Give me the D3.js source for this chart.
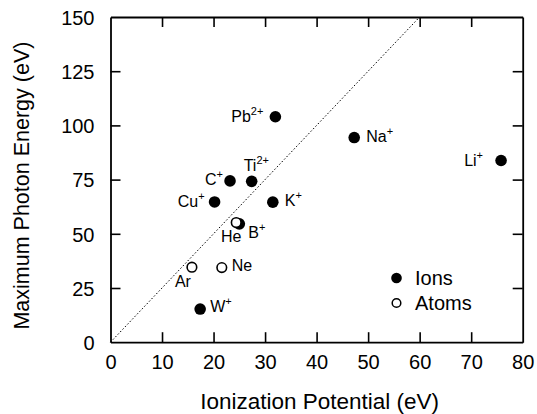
<!DOCTYPE html>
<html><head><meta charset="utf-8">
<script src="https://cdn.jsdelivr.net/npm/d3@7/dist/d3.min.js"></script>
<style>body{margin:0;background:#fff}svg{display:block}</style>
</head><body>
<svg id="chart" width="537" height="414"></svg>
<script>
// ---- data ----
const ionNames    = ["Pb", "Ti", "C", "Cu", "K", "B", "W", "Na", "Li"];
const ionCharges  = ["2+", "2+", "+", "+", "+", "+", "+", "+", "+"];
const ionIP       = [32.0, 27.4, 23.2, 20.2, 31.5, 25.0, 17.4, 47.3, 75.8];
const ionEnergy   = [104.0, 74.2, 74.4, 64.7, 64.6, 54.6, 15.3, 94.4, 83.8];
const atomNames   = ["He", "Ar", "Ne"];
const atomIP      = [24.4, 15.8, 21.6];
const atomEnergy  = [55.2, 34.6, 34.4];
const xTicks = [0, 10, 20, 30, 40, 50, 60, 70, 80];
const yTicks = [0, 25, 50, 75, 100, 125, 150];
const refLineX = [0, 60];
const refLineY = [0, 150];
const legendLabels = ["Ions", "Atoms"];

// ---- label placement (layout only) ----
const ionLabelPos = [
  {anchor:"end", dx:-12, dy:5},    // Pb
  {anchor:"start", dx:-8, dy:-10}, // Ti
  {anchor:"end", dx:-7, dy:4},     // C
  {anchor:"end", dx:-10, dy:5},    // Cu
  {anchor:"start", dx:12, dy:4},   // K
  {anchor:"start", dx:9, dy:14},   // B
  {anchor:"start", dx:10, dy:3},   // W
  {anchor:"start", dx:12, dy:4},   // Na
  {anchor:"end", dx:-18, dy:5}     // Li
];
const atomLabelPos = [
  {anchor:"middle", dx:-5, dy:19}, // He
  {anchor:"end", dx:-1, dy:20},    // Ar
  {anchor:"start", dx:10, dy:3}    // Ne
];

(function () {
const svg = d3.select("#chart");
const mLeft = 110.5, mRight = 522.7, mTop = 17, mBottom = 342.2;
const x = d3.scaleLinear().domain([0, 80]).range([mLeft, mRight]);
const y = d3.scaleLinear().domain([0, 150]).range([mBottom, mTop]);
const font = "'Liberation Sans', Arial, Helvetica, sans-serif";
const tickLen = 10;

const axB = svg.append("g").attr("transform", `translate(0,${mBottom})`)
  .call(d3.axisBottom(x).tickValues(xTicks).tickSizeInner(-tickLen).tickSizeOuter(0).tickPadding(13).tickFormat(d3.format("d")));
const axT = svg.append("g").attr("transform", `translate(0,${mTop})`)
  .call(d3.axisTop(x).tickValues(xTicks).tickSizeInner(-tickLen).tickSizeOuter(0).tickFormat(""));
const axL = svg.append("g").attr("transform", `translate(${mLeft},0)`)
  .call(d3.axisLeft(y).tickValues(yTicks).tickSizeInner(-tickLen).tickSizeOuter(0).tickPadding(16).tickFormat(d3.format("d")));
const axR = svg.append("g").attr("transform", `translate(${mRight},0)`)
  .call(d3.axisRight(y).tickValues(yTicks).tickSizeInner(-tickLen).tickSizeOuter(0).tickFormat(""));
[axB, axT, axL, axR].forEach(g => {
  g.select(".domain").attr("stroke", "#000").attr("stroke-width", 1.8);
  g.selectAll(".tick line").attr("stroke", "#000").attr("stroke-width", 1.6);
  g.selectAll(".tick text").attr("fill", "#000").style("font-family", font).style("font-size", "20px");
});
axB.selectAll(".tick text").attr("dy", "0.71em");
axL.selectAll(".tick text").attr("dy", "0.36em");
axB.selectAll(".tick line").filter(d => d === 0 || d === 80).remove();
axT.selectAll(".tick line").filter(d => d === 0 || d === 80).remove();
axL.selectAll(".tick line").filter(d => d === 0 || d === 150).remove();
axR.selectAll(".tick line").filter(d => d === 0 || d === 150).remove();

svg.append("text").attr("x", (mLeft + mRight) / 2 + 3).attr("y", 409)
  .attr("text-anchor", "middle").style("font-family", font).style("font-size", "22.5px")
  .text("Ionization Potential (eV)");
svg.append("text").attr("transform", `translate(29,${(mTop + mBottom) / 2 + 6}) rotate(-90)`)
  .attr("text-anchor", "middle").style("font-family", font).style("font-size", "21.5px")
  .text("Maximum Photon Energy (eV)");

svg.append("line")
  .attr("x1", x(refLineX[0])).attr("y1", y(refLineY[0]))
  .attr("x2", x(refLineX[1])).attr("y2", y(refLineY[1]))
  .attr("stroke", "#000").attr("stroke-width", 1).attr("stroke-dasharray", "1.5,2");

svg.append("g").selectAll("circle").data(ionIP).join("circle")
  .attr("cx", d => x(d)).attr("cy", (d, i) => y(ionEnergy[i])).attr("r", 5.8)
  .attr("fill", "#000");

svg.append("g").selectAll("circle").data(atomIP).join("circle")
  .attr("cx", d => x(d)).attr("cy", (d, i) => y(atomEnergy[i])).attr("r", 4.8)
  .attr("fill", "#fff").attr("stroke", "#000").attr("stroke-width", 1.6);

function addLabel(name, sup, px, py, pos) {
  const t = svg.append("text").attr("x", px + pos.dx).attr("y", py + pos.dy)
    .attr("text-anchor", pos.anchor).style("font-family", font).style("font-size", "16px").attr("fill", "#000");
  t.append("tspan").text(name);
  if (sup) t.append("tspan").attr("dy", -7).style("font-size", "11px").text(sup);
}
ionNames.forEach((n, i) => addLabel(n, ionCharges[i], x(ionIP[i]), y(ionEnergy[i]), ionLabelPos[i]));
atomNames.forEach((n, i) => addLabel(n, null, x(atomIP[i]), y(atomEnergy[i]), atomLabelPos[i]));

const lg = svg.append("g");
legendLabels.forEach((lab, i) => {
  const cy = 278 + i * 25;
  if (i === 0) lg.append("circle").attr("cx", 396.5).attr("cy", cy).attr("r", 5.3).attr("fill", "#000");
  else lg.append("circle").attr("cx", 396.5).attr("cy", cy).attr("r", 4.3).attr("fill", "#fff").attr("stroke", "#000").attr("stroke-width", 1.5);
  lg.append("text").attr("x", 415).attr("y", cy).attr("dy", "0.36em")
    .style("font-family", font).style("font-size", "20px").text(lab);
});
})();
</script>
</body></html>
